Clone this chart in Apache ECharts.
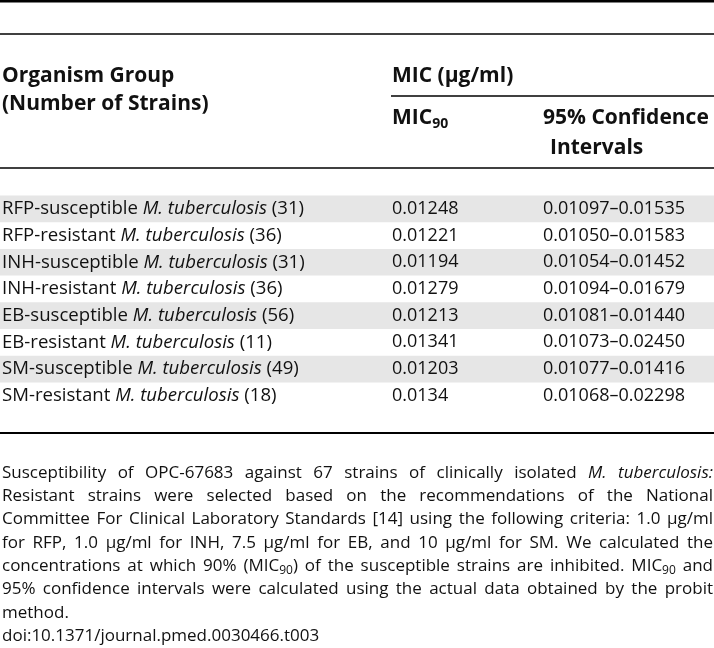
<!DOCTYPE html>
<html>
<head>
<meta charset="utf-8">
<script src="https://cdn.jsdelivr.net/npm/echarts@6/dist/echarts.min.js"></script>
<style>
  html, body { margin: 0; padding: 0; background: #fff; }
  #main { width: 714px; height: 648px; }
</style>
</head>
<body>
<div id="main"></div>
<script>
// 表格数据
const groups = ['RFP-susceptible', 'RFP-resistant', 'INH-susceptible', 'INH-resistant',
                'EB-susceptible', 'EB-resistant', 'SM-susceptible', 'SM-resistant'];
const strainCounts = [31, 36, 31, 36, 56, 11, 49, 18];
const mic90 = [0.01248, 0.01221, 0.01194, 0.01279, 0.01213, 0.01341, 0.01203, 0.0134];
const ciLow = [0.01097, 0.01050, 0.01054, 0.01094, 0.01081, 0.01073, 0.01077, 0.01068];
const ciHigh = [0.01535, 0.01583, 0.01452, 0.01679, 0.01440, 0.02450, 0.01416, 0.02298];

// 脚注：_斜体_，~下标~
const captionLines = [
  'Susceptibility of OPC-67683 against 67 strains of clinically isolated _M. tuberculosis:_',
  'Resistant strains were selected based on the recommendations of the National',
  'Committee For Clinical Laboratory Standards [14] using the following criteria: 1.0 μg/ml',
  'for RFP, 1.0 μg/ml for INH, 7.5 μg/ml for EB, and 10 μg/ml for SM. We calculated the',
  'concentrations at which 90% (MIC~90~) of the susceptible strains are inhibited. MIC~90~ and',
  '95% confidence intervals were calculated using the actual data obtained by the probit',
  'method.',
  'doi:10.1371/journal.pmed.0030466.t003'
];
const justified = [true, true, true, true, true, true, false, false];

const FONT = '"Open Sans", sans-serif';
const INK = '#111';
const BAND = '#e6e6e6';

// 列位置
const colGroup = 2;
const colMic = 392;
const colCi = 543;

function richStyles(size) {
  const lh = Math.round(size * 1.25);
  const sub = Math.round(size * 0.68);
  const base = { fontFamily: FONT, fill: INK };
  return {
    n: Object.assign({ fontSize: size, fontStyle: 'normal', fontWeight: 'normal', lineHeight: lh, verticalAlign: 'middle' }, base),
    i: Object.assign({ fontSize: size, fontStyle: 'italic', fontWeight: 'normal', lineHeight: lh, verticalAlign: 'middle' }, base),
    s: Object.assign({ fontSize: sub, fontStyle: 'normal', fontWeight: 'normal', lineHeight: sub, verticalAlign: 'bottom' }, base),
    b: Object.assign({ fontSize: size, fontStyle: 'normal', fontWeight: 'bold', lineHeight: lh, verticalAlign: 'middle' }, base),
    bs: Object.assign({ fontSize: sub, fontStyle: 'normal', fontWeight: 'bold', lineHeight: sub, verticalAlign: 'bottom' }, base)
  };
}

function renderRow(params, api) {
  const i = api.value(1);
  const cy = api.coord([0, i])[1];
  const bandH = api.size([0, 1])[1];
  const x = v => api.coord([v, i])[0];
  const children = [];
  if (i % 2 === 0) {
    children.push({
      type: 'rect',
      shape: { x: x(0), y: cy - bandH / 2, width: api.size([714, 0])[0], height: bandH },
      style: { fill: BAND }
    });
  }
  const cell = (px, text, size) => ({
    type: 'text', x: px, y: cy,
    style: { text: text, rich: richStyles(size), verticalAlign: 'middle', align: 'left' }
  });
  children.push(cell(x(colGroup), `{n|${groups[i]} }{i|M. tuberculosis}{n| (${strainCounts[i]})}`, 18.6));
  children.push(cell(x(colMic), `{n|${String(mic90[i])}}`, 18));
  children.push(cell(x(colCi), `{n|${ciLow[i].toFixed(5)}–${ciHigh[i].toFixed(5)}}`, 18));
  return { type: 'group', children: children };
}

// 表头和横线
const headSize = 21;
function headText(x, y, text) {
  return { type: 'text', x: x, y: y, silent: true,
    style: { text: text, rich: richStyles(headSize), verticalAlign: 'middle', align: 'left' } };
}
function hline(x1, x2, y, w) {
  return { type: 'rect', silent: true, shape: { x: x1, y: y - w / 2, width: x2 - x1, height: w }, style: { fill: '#000' } };
}

const graphics = [
  hline(0, 714, 1.2, 2.6),
  hline(0, 714, 34, 1.6),
  headText(colGroup, 76, '{b|Organism Group}'),
  headText(colGroup, 104, '{b|(Number of Strains)}'),
  headText(colMic, 76, '{b|MIC (μg/ml)}'),
  hline(391, 714, 96, 1.6),
  headText(colMic, 118, '{b|MIC}{bs|90}'),
  headText(colCi, 118, '{b|95% Confidence}'),
  headText(colCi + 7, 148, '{b|Intervals}'),
  hline(0, 714, 168, 1.6),
  hline(0, 714, 433, 2)
];

// 脚注两端对齐
const ctx = document.createElement('canvas').getContext('2d');
const capSize = 17;
function segFont(m) {
  if (m === 'i') return `italic ${capSize}px ${FONT}`;
  if (m === 's') return `${Math.round(capSize * 0.68)}px ${FONT}`;
  return `${capSize}px ${FONT}`;
}
function parseLine(str) {
  const words = [];
  let cur = [], buf = '', mode = 'n';
  const flush = () => { if (buf) { cur.push({ t: buf, m: mode }); buf = ''; } };
  for (const ch of str) {
    if (ch === '_') { flush(); mode = mode === 'i' ? 'n' : 'i'; }
    else if (ch === '~') { flush(); mode = mode === 's' ? 'n' : 's'; }
    else if (ch === ' ') { flush(); words.push(cur); cur = []; }
    else buf += ch;
  }
  flush();
  if (cur.length) words.push(cur);
  return words;
}
function wordWidth(w) {
  return w.reduce((s, seg) => { ctx.font = segFont(seg.m); return s + ctx.measureText(seg.t).width; }, 0);
}
ctx.font = segFont('n');
const spaceW = ctx.measureText(' ').width;
const capLeft = 2, capRight = 713, capTop = 473, capStep = 23.3;

captionLines.forEach((line, li) => {
  const words = parseLine(line);
  const widths = words.map(wordWidth);
  const total = widths.reduce((a, b) => a + b, 0);
  const gap = justified[li] && words.length > 1 ? (capRight - capLeft - total) / (words.length - 1) : spaceW;
  let x = capLeft;
  words.forEach((w, wi) => {
    graphics.push({
      type: 'text', x: x, y: capTop + li * capStep, silent: true,
      style: { text: w.map(seg => `{${seg.m}|${seg.t}}`).join(''), rich: richStyles(capSize), verticalAlign: 'middle', align: 'left' }
    });
    x += widths[wi] + gap;
  });
});

const chart = echarts.init(document.getElementById('main'));
chart.setOption({
  animation: false,
  grid: { left: 0, right: 0, top: 195.5, height: 213.6 },
  xAxis: { type: 'value', min: 0, max: 714, show: false },
  yAxis: { type: 'category', data: groups, inverse: true, show: false },
  series: [{
    type: 'custom',
    silent: true,
    renderItem: renderRow,
    encode: { x: 0, y: 1 },
    data: groups.map((g, i) => [0, i])
  }],
  graphic: { elements: graphics }
});
</script>
</body>
</html>
